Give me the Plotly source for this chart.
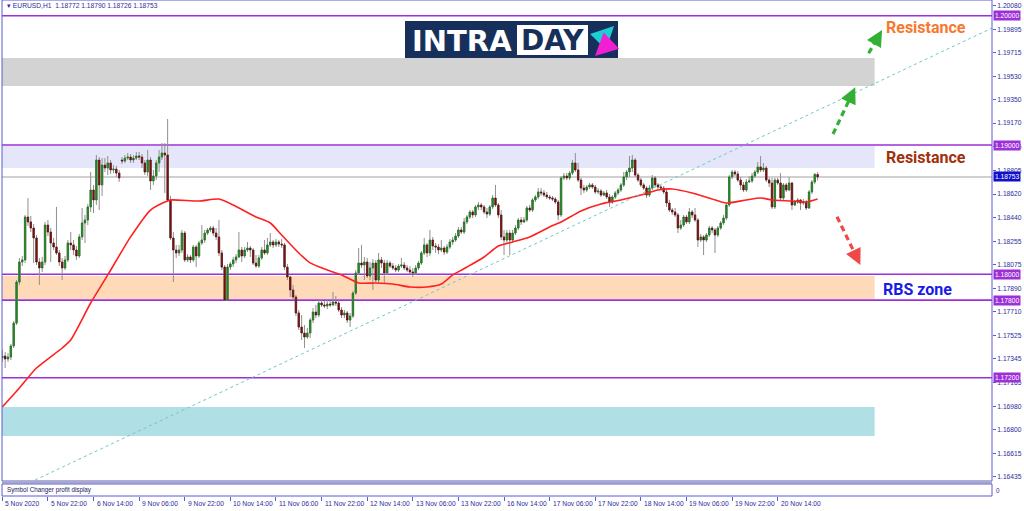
import plotly.graph_objects as go

# ---------------- data (EURUSD H1) ----------------
opens = [
    1.17353, 1.17368, 1.17345, 1.17360, 1.17446, 1.17623, 1.17940, 1.18095, 1.18111, 1.18443,
    1.18405, 1.18358, 1.18281, 1.18095, 1.18049, 1.18095, 1.18381, 1.18327, 1.18242, 1.18211,
    1.18165, 1.18095, 1.18049, 1.18111, 1.18242, 1.18227, 1.18188, 1.18142, 1.18289, 1.18397,
    1.18420, 1.18521, 1.18652, 1.18575, 1.18884, 1.18691, 1.18845, 1.18822, 1.18861, 1.18807,
    1.18814, 1.18783, 1.18884, 1.18876, 1.18899, 1.18907, 1.18884, 1.18899, 1.18915, 1.18907,
    1.18861, 1.18791, 1.18884, 1.18722, 1.18760, 1.18861, 1.18907, 1.18938, 1.18923, 1.18575,
    1.18281, 1.18188, 1.18165, 1.18188, 1.18319, 1.18111, 1.18134, 1.18111, 1.18211, 1.18142,
    1.18242, 1.18265, 1.18319, 1.18343, 1.18358, 1.18319, 1.18289, 1.18165, 1.18056, 1.17801,
    1.18056, 1.18080, 1.18111, 1.18134, 1.18188, 1.18142, 1.18188, 1.18203, 1.18188, 1.18087,
    1.18064, 1.18126, 1.18188, 1.18165, 1.18227, 1.18250, 1.18227, 1.18250, 1.18234, 1.18227,
    1.18056, 1.17979, 1.17879, 1.17824, 1.17701, 1.17592, 1.17546, 1.17515, 1.17546, 1.17646,
    1.17708, 1.17685, 1.17778, 1.17763, 1.17755, 1.17770, 1.17763, 1.17786, 1.17778, 1.17724,
    1.17685, 1.17701, 1.17646, 1.17677, 1.17855, 1.18010, 1.18087, 1.18072, 1.18095, 1.17987,
    1.18049, 1.18087, 1.17956, 1.18111, 1.18087, 1.18010, 1.18087, 1.18064, 1.18049, 1.18033,
    1.18064, 1.18072, 1.18049, 1.18033, 1.18018, 1.18010, 1.18049, 1.18087, 1.18165, 1.18227,
    1.18165, 1.18265, 1.18219, 1.18211, 1.18188, 1.18203, 1.18172, 1.18211, 1.18250, 1.18265,
    1.18296, 1.18343, 1.18327, 1.18405, 1.18443, 1.18482, 1.18459, 1.18521, 1.18536, 1.18521,
    1.18482, 1.18466, 1.18521, 1.18590, 1.18536, 1.18459, 1.18289, 1.18265, 1.18319, 1.18265,
    1.18319, 1.18358, 1.18420, 1.18405, 1.18420, 1.18513, 1.18497, 1.18575, 1.18598, 1.18637,
    1.18629, 1.18613, 1.18598, 1.18590, 1.18582, 1.18559, 1.18459, 1.18745, 1.18760, 1.18745,
    1.18783, 1.18861, 1.18807, 1.18729, 1.18667, 1.18652, 1.18675, 1.18691, 1.18675, 1.18637,
    1.18644, 1.18613, 1.18629, 1.18598, 1.18559, 1.18598, 1.18629, 1.18652, 1.18691, 1.18753,
    1.18791, 1.18822, 1.18884, 1.18768, 1.18729, 1.18691, 1.18667, 1.18613, 1.18667, 1.18745,
    1.18691, 1.18675, 1.18667, 1.18637, 1.18551, 1.18497, 1.18482, 1.18459, 1.18358, 1.18381,
    1.18443, 1.18405, 1.18482, 1.18459, 1.18420, 1.18265, 1.18289, 1.18265, 1.18304, 1.18358,
    1.18343, 1.18304, 1.18358, 1.18397, 1.18435, 1.18536, 1.18753, 1.18791, 1.18776, 1.18729,
    1.18691, 1.18652, 1.18714, 1.18722, 1.18760, 1.18791, 1.18830, 1.18807, 1.18822, 1.18729,
    1.18706, 1.18521, 1.18729, 1.18706, 1.18590, 1.18691, 1.18652, 1.18706, 1.18536, 1.18559,
    1.18575, 1.18551, 1.18559, 1.18513, 1.18637, 1.18714, 1.18772,
]
highs = [
    1.17415, 1.17399, 1.17391, 1.17461, 1.17639, 1.17956, 1.18126, 1.18142, 1.18459, 1.18590,
    1.18451, 1.18389, 1.18304, 1.18126, 1.18134, 1.18405, 1.18420, 1.18358, 1.18281, 1.18521,
    1.18188, 1.18126, 1.18142, 1.18265, 1.18327, 1.18265, 1.18219, 1.18312, 1.18513, 1.18459,
    1.18544, 1.18791, 1.18691, 1.18923, 1.18907, 1.18899, 1.18899, 1.18915, 1.18884, 1.18845,
    1.18838, 1.18807, 1.18907, 1.18923, 1.18938, 1.18930, 1.18923, 1.18946, 1.18946, 1.18930,
    1.18884, 1.18961, 1.18907, 1.18807, 1.18884, 1.18961, 1.19015, 1.19015, 1.19201, 1.18606,
    1.18327, 1.18227, 1.18227, 1.18343, 1.18335, 1.18157, 1.18149, 1.18227, 1.18227, 1.18258,
    1.18381, 1.18343, 1.18358, 1.18374, 1.18374, 1.18358, 1.18420, 1.18188, 1.18072, 1.18080,
    1.18095, 1.18134, 1.18157, 1.18327, 1.18211, 1.18211, 1.18250, 1.18219, 1.18203, 1.18149,
    1.18149, 1.18211, 1.18265, 1.18281, 1.18319, 1.18265, 1.18273, 1.18265, 1.18273, 1.18242,
    1.18080, 1.17987, 1.17917, 1.17840, 1.17724, 1.17685, 1.17608, 1.17585, 1.17662, 1.17739,
    1.17763, 1.17801, 1.17801, 1.17793, 1.17801, 1.17793, 1.17863, 1.17832, 1.17801, 1.17747,
    1.17724, 1.17716, 1.17701, 1.17871, 1.18033, 1.18203, 1.18227, 1.18134, 1.18126, 1.18095,
    1.18118, 1.18111, 1.18165, 1.18134, 1.18111, 1.18111, 1.18103, 1.18087, 1.18072, 1.18080,
    1.18126, 1.18095, 1.18072, 1.18064, 1.18049, 1.18072, 1.18103, 1.18180, 1.18281, 1.18242,
    1.18343, 1.18289, 1.18242, 1.18234, 1.18265, 1.18219, 1.18234, 1.18273, 1.18289, 1.18319,
    1.18366, 1.18366, 1.18435, 1.18459, 1.18497, 1.18497, 1.18536, 1.18559, 1.18551, 1.18536,
    1.18513, 1.18536, 1.18613, 1.18691, 1.18551, 1.18497, 1.18343, 1.18343, 1.18343, 1.18343,
    1.18381, 1.18435, 1.18443, 1.18443, 1.18528, 1.18536, 1.18590, 1.18613, 1.18667, 1.18667,
    1.18652, 1.18637, 1.18613, 1.18606, 1.18598, 1.18575, 1.18760, 1.18783, 1.18783, 1.18799,
    1.18884, 1.18938, 1.18861, 1.18745, 1.18691, 1.18691, 1.18706, 1.18706, 1.18691, 1.18667,
    1.18660, 1.18644, 1.18652, 1.18621, 1.18613, 1.18644, 1.18667, 1.18706, 1.18791, 1.18807,
    1.18915, 1.18923, 1.18899, 1.18783, 1.18745, 1.18706, 1.18683, 1.18691, 1.18768, 1.18760,
    1.18706, 1.18691, 1.18683, 1.18652, 1.18575, 1.18513, 1.18513, 1.18474, 1.18420, 1.18459,
    1.18459, 1.18513, 1.18497, 1.18513, 1.18435, 1.18312, 1.18304, 1.18319, 1.18374, 1.18374,
    1.18358, 1.18374, 1.18412, 1.18459, 1.18551, 1.18768, 1.18807, 1.18807, 1.18799, 1.18753,
    1.18714, 1.18737, 1.18760, 1.18783, 1.18807, 1.18869, 1.18915, 1.18861, 1.18838, 1.18745,
    1.18745, 1.18745, 1.18745, 1.18783, 1.18706, 1.18706, 1.18753, 1.18714, 1.18575, 1.18590,
    1.18582, 1.18582, 1.18575, 1.18652, 1.18729, 1.18783, 1.18790,
]
lows = [
    1.17322, 1.17275, 1.17322, 1.17337, 1.17430, 1.17608, 1.17917, 1.18064, 1.18087, 1.18374,
    1.18327, 1.18087, 1.18072, 1.17917, 1.18018, 1.18072, 1.18296, 1.18095, 1.18188, 1.18149,
    1.18064, 1.17956, 1.18033, 1.18095, 1.18188, 1.18149, 1.18111, 1.18126, 1.18265, 1.18242,
    1.18381, 1.18482, 1.18474, 1.18536, 1.18497, 1.18606, 1.18791, 1.18768, 1.18776, 1.18783,
    1.18753, 1.18714, 1.18853, 1.18861, 1.18884, 1.18861, 1.18861, 1.18884, 1.18884, 1.18822,
    1.18768, 1.18760, 1.18652, 1.18691, 1.18729, 1.18791, 1.18884, 1.18629, 1.18559, 1.18265,
    1.17940, 1.18126, 1.18142, 1.18165, 1.18095, 1.18095, 1.18087, 1.18095, 1.18056, 1.18126,
    1.18227, 1.18242, 1.18304, 1.18327, 1.18296, 1.18265, 1.18142, 1.18033, 1.17793, 1.17793,
    1.18033, 1.18056, 1.18087, 1.18126, 1.18095, 1.18126, 1.18172, 1.18134, 1.18072, 1.18049,
    1.18049, 1.18111, 1.18149, 1.18149, 1.18211, 1.18203, 1.18211, 1.18211, 1.18203, 1.18033,
    1.17956, 1.17824, 1.17801, 1.17677, 1.17569, 1.17492, 1.17430, 1.17500, 1.17507, 1.17623,
    1.17662, 1.17670, 1.17747, 1.17739, 1.17732, 1.17747, 1.17755, 1.17755, 1.17708, 1.17662,
    1.17662, 1.17623, 1.17592, 1.17662, 1.17840, 1.17995, 1.18049, 1.17956, 1.17971, 1.17956,
    1.17879, 1.17940, 1.17933, 1.18049, 1.17933, 1.17995, 1.18049, 1.18033, 1.18018, 1.18018,
    1.18049, 1.18033, 1.18018, 1.18002, 1.17979, 1.17995, 1.18033, 1.18072, 1.18149, 1.18134,
    1.18142, 1.18188, 1.18165, 1.18157, 1.18172, 1.18149, 1.18157, 1.18196, 1.18227, 1.18250,
    1.18281, 1.18312, 1.18312, 1.18389, 1.18428, 1.18435, 1.18443, 1.18497, 1.18497, 1.18466,
    1.18435, 1.18451, 1.18505, 1.18521, 1.18435, 1.18265, 1.18149, 1.18242, 1.18149, 1.18250,
    1.18304, 1.18343, 1.18381, 1.18397, 1.18405, 1.18482, 1.18482, 1.18559, 1.18582, 1.18606,
    1.18598, 1.18582, 1.18575, 1.18567, 1.18544, 1.18420, 1.18443, 1.18729, 1.18729, 1.18729,
    1.18768, 1.18791, 1.18714, 1.18613, 1.18629, 1.18637, 1.18660, 1.18660, 1.18621, 1.18621,
    1.18598, 1.18606, 1.18582, 1.18521, 1.18544, 1.18582, 1.18613, 1.18637, 1.18675, 1.18729,
    1.18753, 1.18791, 1.18753, 1.18714, 1.18675, 1.18652, 1.18590, 1.18598, 1.18652, 1.18675,
    1.18660, 1.18652, 1.18621, 1.18521, 1.18482, 1.18459, 1.18443, 1.18319, 1.18343, 1.18366,
    1.18389, 1.18389, 1.18435, 1.18405, 1.18211, 1.18250, 1.18149, 1.18250, 1.18289, 1.18319,
    1.18165, 1.18289, 1.18343, 1.18381, 1.18420, 1.18521, 1.18737, 1.18760, 1.18714, 1.18652,
    1.18637, 1.18637, 1.18706, 1.18706, 1.18745, 1.18776, 1.18791, 1.18791, 1.18714, 1.18675,
    1.18505, 1.18505, 1.18691, 1.18575, 1.18575, 1.18637, 1.18644, 1.18497, 1.18528, 1.18544,
    1.18497, 1.18536, 1.18497, 1.18505, 1.18621, 1.18698, 1.18726,
]
closes = [
    1.17368, 1.17345, 1.17360, 1.17446, 1.17623, 1.17940, 1.18095, 1.18111, 1.18443, 1.18405,
    1.18358, 1.18281, 1.18095, 1.18049, 1.18095, 1.18381, 1.18327, 1.18242, 1.18211, 1.18165,
    1.18095, 1.18049, 1.18111, 1.18242, 1.18227, 1.18188, 1.18142, 1.18289, 1.18397, 1.18420,
    1.18521, 1.18652, 1.18575, 1.18884, 1.18691, 1.18845, 1.18822, 1.18861, 1.18807, 1.18814,
    1.18783, 1.18745, 1.18876, 1.18899, 1.18907, 1.18884, 1.18899, 1.18915, 1.18907, 1.18861,
    1.18791, 1.18884, 1.18722, 1.18760, 1.18861, 1.18907, 1.18938, 1.18923, 1.18575, 1.18281,
    1.18188, 1.18165, 1.18188, 1.18319, 1.18111, 1.18134, 1.18111, 1.18211, 1.18142, 1.18242,
    1.18265, 1.18319, 1.18343, 1.18358, 1.18319, 1.18289, 1.18165, 1.18056, 1.17801, 1.18056,
    1.18080, 1.18111, 1.18134, 1.18188, 1.18142, 1.18188, 1.18203, 1.18188, 1.18087, 1.18064,
    1.18126, 1.18188, 1.18165, 1.18227, 1.18250, 1.18227, 1.18250, 1.18234, 1.18227, 1.18056,
    1.17979, 1.17879, 1.17824, 1.17701, 1.17592, 1.17546, 1.17515, 1.17546, 1.17646, 1.17708,
    1.17685, 1.17778, 1.17763, 1.17755, 1.17770, 1.17763, 1.17786, 1.17778, 1.17724, 1.17685,
    1.17701, 1.17646, 1.17677, 1.17855, 1.18010, 1.18087, 1.18072, 1.18095, 1.17987, 1.18049,
    1.18087, 1.17956, 1.18111, 1.18087, 1.18010, 1.18087, 1.18064, 1.18049, 1.18033, 1.18064,
    1.18072, 1.18049, 1.18033, 1.18018, 1.18010, 1.18049, 1.18087, 1.18165, 1.18227, 1.18165,
    1.18265, 1.18219, 1.18211, 1.18188, 1.18203, 1.18172, 1.18211, 1.18250, 1.18265, 1.18296,
    1.18343, 1.18327, 1.18405, 1.18443, 1.18482, 1.18459, 1.18521, 1.18536, 1.18521, 1.18482,
    1.18466, 1.18521, 1.18590, 1.18536, 1.18459, 1.18289, 1.18265, 1.18319, 1.18265, 1.18319,
    1.18358, 1.18420, 1.18405, 1.18420, 1.18513, 1.18497, 1.18575, 1.18598, 1.18637, 1.18629,
    1.18613, 1.18598, 1.18590, 1.18582, 1.18559, 1.18459, 1.18745, 1.18760, 1.18745, 1.18783,
    1.18861, 1.18807, 1.18729, 1.18667, 1.18652, 1.18675, 1.18691, 1.18675, 1.18637, 1.18644,
    1.18613, 1.18629, 1.18598, 1.18559, 1.18598, 1.18629, 1.18652, 1.18691, 1.18753, 1.18791,
    1.18822, 1.18884, 1.18768, 1.18729, 1.18691, 1.18667, 1.18613, 1.18667, 1.18745, 1.18691,
    1.18675, 1.18667, 1.18637, 1.18551, 1.18497, 1.18482, 1.18459, 1.18358, 1.18381, 1.18443,
    1.18405, 1.18482, 1.18459, 1.18420, 1.18265, 1.18289, 1.18265, 1.18304, 1.18358, 1.18343,
    1.18304, 1.18358, 1.18397, 1.18435, 1.18536, 1.18753, 1.18791, 1.18776, 1.18729, 1.18691,
    1.18652, 1.18714, 1.18722, 1.18760, 1.18791, 1.18830, 1.18807, 1.18822, 1.18729, 1.18706,
    1.18521, 1.18729, 1.18706, 1.18590, 1.18691, 1.18652, 1.18706, 1.18536, 1.18559, 1.18575,
    1.18551, 1.18559, 1.18513, 1.18637, 1.18714, 1.18772, 1.18753,
]

# moving average (red line), read at sample bars
ma_bars = [0, 6, 12, 21, 24, 31, 37, 45, 52, 57, 59, 69, 76, 81, 89, 94, 98, 104, 108, 114,
           119, 125, 131, 137, 143, 149, 154, 158, 163, 169, 174, 179, 185, 192, 196, 203, 210,
           217, 224, 230, 235, 242, 249, 254, 261, 266, 270, 277, 282, 286]
ma_values = [1.16974, 1.17121, 1.17275, 1.17430, 1.17492, 1.17778, 1.17995, 1.18289, 1.18497,
             1.18559, 1.18575, 1.18567, 1.18582, 1.18536, 1.18443, 1.18397, 1.18304, 1.18165,
             1.18088, 1.18033, 1.17995, 1.17933, 1.17933, 1.17925, 1.17902, 1.17902, 1.17925,
             1.17995, 1.18056, 1.18134, 1.18219, 1.18250, 1.18289, 1.18366, 1.18404, 1.18490,
             1.18544, 1.18575, 1.18613, 1.18652, 1.18660, 1.18629, 1.18582, 1.18551, 1.18575,
             1.18590, 1.18575, 1.18567, 1.18559, 1.18582]

time_label_bars = [0, 16, 32, 48, 64, 80, 96, 112, 128, 144, 160, 176, 192, 208, 224, 240, 256, 272]
time_labels = ["5 Nov 2020", "5 Nov 22:00", "6 Nov 14:00", "9 Nov 06:00", "9 Nov 22:00",
               "10 Nov 14:00", "11 Nov 06:00", "11 Nov 22:00", "12 Nov 14:00", "13 Nov 06:00",
               "13 Nov 22:00", "16 Nov 14:00", "17 Nov 06:00", "17 Nov 22:00", "18 Nov 14:00",
               "19 Nov 06:00", "19 Nov 22:00", "20 Nov 14:00"]

price_ticks = [1.20080, 1.19895, 1.19715, 1.19530, 1.19350, 1.19170, 1.18985, 1.18805, 1.18620,
               1.18440, 1.18255, 1.18075, 1.17890, 1.17710, 1.17525, 1.17345, 1.17165, 1.16980,
               1.16800, 1.16615, 1.16435]

level_prices = [1.20000, 1.19000, 1.18000, 1.17800, 1.17200]
current_price = 1.18753
header_ohlc = [1.18772, 1.18790, 1.18726, 1.18753]

zone_tops = [1.19673, 1.18992, 1.17987, 1.16974]
zone_bottoms = [1.19456, 1.18822, 1.17809, 1.16750]
zone_end_bar = 306

trend_bars = [11.5, 347.2]
trend_prices = [1.16409, 1.19905]

arrow_tails = [(291.4, 1.19085), (303.9, 1.19709), (292.8, 1.18445)]
arrow_tips = [(299.2, 1.19446), (308.6, 1.19889), (301.0, 1.18072)]

label_texts = ["Resistance", "Resistance", "RBS zone"]
label_bars = [324.0, 324.0, 321.2]
label_prices = [1.19905, 1.18907, 1.17886]

# ---------------- styling ----------------
FRAME = "#5b5bd8"
TXT = "#2b2b9b"
PURPLE = "#9c2fd6"
zone_colors = ["#d3d3d3", "#e6e6fa", "#ffdab9", "#b0e0e6"]
arrow_colors = ["#33b033", "#33b033", "#f04848"]
label_colors = ["#f7782e", "#a3300c", "#1a1ae6"]
FONT = "Liberation Sans"
FS = 6.7

X0, X1 = -0.105, 347.17
Y_BOTTOM, Y_TOP = 1.164014, 1.201214
MAIN_BOTTOM = 15 / 496

bar_index = list(range(len(closes)))

fig = go.Figure()

# wicks (gray)
fig.add_trace(go.Candlestick(
    x=bar_index, open=opens, high=highs, low=lows, close=closes,
    increasing=dict(line=dict(color="#8f8f8f", width=1), fillcolor="#8f8f8f"),
    decreasing=dict(line=dict(color="#8f8f8f", width=1), fillcolor="#8f8f8f"),
    whiskerwidth=0, hoverinfo="skip", showlegend=False))
# bodies (coloured)
fig.add_trace(go.Candlestick(
    x=bar_index, open=opens, close=closes,
    high=[max(o, c) for o, c in zip(opens, closes)],
    low=[min(o, c) for o, c in zip(opens, closes)],
    increasing=dict(line=dict(color="#1b6e1b", width=0.6), fillcolor="#1f961f"),
    decreasing=dict(line=dict(color="#5a0b0b", width=0.6), fillcolor="#8b1010"),
    whiskerwidth=0, hoverinfo="skip", showlegend=False))

# moving average
fig.add_trace(go.Scatter(x=ma_bars, y=ma_values, mode="lines",
                         line=dict(color="#ff2020", width=1.6, shape="spline", smoothing=0.6),
                         hoverinfo="skip", showlegend=False))
# trend line
fig.add_trace(go.Scatter(x=trend_bars, y=trend_prices, mode="lines",
                         line=dict(color="#6cc9c9", width=1, dash="dot"),
                         hoverinfo="skip", showlegend=False))
# dashed arrow shafts
for (tx, ty), (hx, hy), col in zip(arrow_tails, arrow_tips, arrow_colors):
    fig.add_trace(go.Scatter(x=[tx, tx + (hx - tx) * 0.8], y=[ty, ty + (hy - ty) * 0.8],
                             mode="lines", line=dict(color=col, width=3.2, dash="6px,4px"),
                             hoverinfo="skip", showlegend=False))

shapes = []
for top, bot, col in zip(zone_tops, zone_bottoms, zone_colors):
    shapes.append(dict(type="rect", xref="x", yref="y", x0=X0 - 1, x1=zone_end_bar,
                       y0=bot, y1=top, fillcolor=col, line=dict(width=0), layer="below"))
for lv in level_prices:
    shapes.append(dict(type="line", xref="paper", yref="y", x0=0, x1=1, y0=lv, y1=lv,
                       line=dict(color=PURPLE, width=1.6), layer="below"))
shapes.append(dict(type="line", xref="paper", yref="y", x0=0, x1=1, y0=current_price,
                   y1=current_price, line=dict(color="#c0c0c0", width=1.6), layer="below"))
# frames
shapes.append(dict(type="rect", xref="paper", yref="paper", x0=0, x1=1, y0=MAIN_BOTTOM, y1=1,
                   line=dict(color=FRAME, width=1)))
shapes.append(dict(type="line", xref="paper", yref="paper", x0=0, x1=1, y0=0.0272, y1=0.0272,
                   line=dict(color="#a8a8b8", width=2)))
shapes.append(dict(type="rect", xref="paper", yref="paper", x0=0, x1=1, y0=0, y1=0.0242,
                   line=dict(color=FRAME, width=1)))
# logo
def px2paper(px, py):
    return (px - 2) / 990, 1 - py / 496
lx0, ly0 = px2paper(405, 21)
lx1, ly1 = px2paper(618, 58)
shapes.append(dict(type="rect", xref="paper", yref="paper", x0=lx0, x1=lx1, y0=ly1, y1=ly0,
                   fillcolor="#16305b", line=dict(width=0)))
wx0, wy0 = px2paper(517, 25)
wx1, wy1 = px2paper(588, 55)
shapes.append(dict(type="rect", xref="paper", yref="paper", x0=wx0, x1=wx1, y0=wy1, y1=wy0,
                   fillcolor="#ffffff", line=dict(width=0)))

annotations = []
# arrow heads
for (tx, ty), (hx, hy), col in zip(arrow_tails, arrow_tips, arrow_colors):
    annotations.append(dict(x=hx, y=hy, xref="x", yref="y",
                            ax=tx + (hx - tx) * 0.72, ay=ty + (hy - ty) * 0.72,
                            axref="x", ayref="y", showarrow=True, text="",
                            arrowhead=2, arrowsize=1.15, arrowwidth=2.8, arrowcolor=col))
# text labels
for t, bx, py, col in zip(label_texts, label_bars, label_prices, label_colors):
    annotations.append(dict(x=bx, y=py, xref="x", yref="y", text=f"<b>{t}</b>",
                            showarrow=False, font=dict(family="Roboto", size=16, color=col)))
# right-axis highlighted labels
for lv in level_prices:
    annotations.append(dict(x=1, y=lv, xref="paper", yref="y", xanchor="left", xshift=1,
                            text=f"{lv:.5f}", showarrow=False, bgcolor=PURPLE, borderpad=1,
                            font=dict(family=FONT, size=FS, color="white")))
annotations.append(dict(x=1, y=current_price, xref="paper", yref="y", xanchor="left", xshift=1,
                        text=f"{current_price:.5f}", showarrow=False, bgcolor="#1010c8",
                        borderpad=1, font=dict(family=FONT, size=FS, color="white")))
# time labels
for b, t in zip(time_label_bars, time_labels):
    annotations.append(dict(x=b, y=0, xref="x", yref="paper", xanchor="left", yanchor="top",
                            xshift=1, yshift=-2, text=t, showarrow=False,
                            font=dict(family=FONT, size=FS, color=TXT)))
# header
annotations.append(dict(x=0, y=1, xref="paper", yref="paper", xanchor="left", yanchor="top",
                        xshift=3, yshift=0,
                        text="▾ EURUSD,H1  " + " ".join(f"{v:.5f}" for v in header_ohlc),
                        showarrow=False, font=dict(family=FONT, size=FS, color=TXT)))
annotations.append(dict(x=0, y=0.012, xref="paper", yref="paper", xanchor="left",
                        yanchor="middle", xshift=3, text="Symbol Changer profit display",
                        showarrow=False, font=dict(family=FONT, size=6.3, color="#202060")))
annotations.append(dict(x=1, y=0.012, xref="paper", yref="paper", xanchor="left",
                        yanchor="middle", xshift=2, text="0",
                        showarrow=False, font=dict(family=FONT, size=6.3, color=TXT)))
# logo text and arrows
ix, iy = px2paper(462, 41)
annotations.append(dict(x=ix, y=iy, xref="paper", yref="paper", text="<b>INTRA</b>",
                        xanchor="center", yanchor="middle", showarrow=False,
                        font=dict(family="DejaVu Sans", size=29, color="white")))
dx, dy = px2paper(552.5, 41)
annotations.append(dict(x=dx, y=dy, xref="paper", yref="paper", text="<b>DAY</b>",
                        xanchor="center", yanchor="middle", showarrow=False,
                        font=dict(family="DejaVu Sans", size=28, color="#16305b")))
cx, cy = px2paper(614, 26)
annotations.append(dict(x=cx, y=cy, xref="paper", yref="paper", ax=-16, ay=16, text="",
                        showarrow=True, arrowhead=2, arrowsize=0.9, arrowwidth=5,
                        arrowcolor="#1ccfd3"))
mx, my = px2paper(595, 56)
annotations.append(dict(x=mx, y=my, xref="paper", yref="paper", ax=16, ay=-15, text="",
                        showarrow=True, arrowhead=2, arrowsize=0.9, arrowwidth=5,
                        arrowcolor="#f21fd2"))

fig.update_layout(
    width=1024, height=511,
    margin=dict(l=2, r=32, t=0, b=15, autoexpand=False),
    paper_bgcolor="white", plot_bgcolor="white",
    hovermode=False, showlegend=False,
    shapes=shapes, annotations=annotations,
    xaxis=dict(range=[X0, X1], rangeslider=dict(visible=False), showgrid=False,
               zeroline=False, showline=False, anchor="free", position=0,
               tickmode="array", tickvals=time_label_bars, showticklabels=False,
               ticks="outside", ticklen=4, tickcolor=FRAME, fixedrange=True),
    yaxis=dict(range=[Y_BOTTOM, Y_TOP], domain=[MAIN_BOTTOM, 1], side="right",
               showgrid=False, zeroline=False, showline=False,
               tickmode="array", tickvals=price_ticks,
               ticktext=[f"{v:.5f}" for v in price_ticks],
               ticks="outside", ticklen=3, tickcolor=FRAME,
               tickfont=dict(family=FONT, size=FS, color=TXT), fixedrange=True),
)

fig.write_html("out.html", config={"displayModeBar": False},
               post_script="document.body.style.margin='0px';document.body.style.overflow='hidden';")
